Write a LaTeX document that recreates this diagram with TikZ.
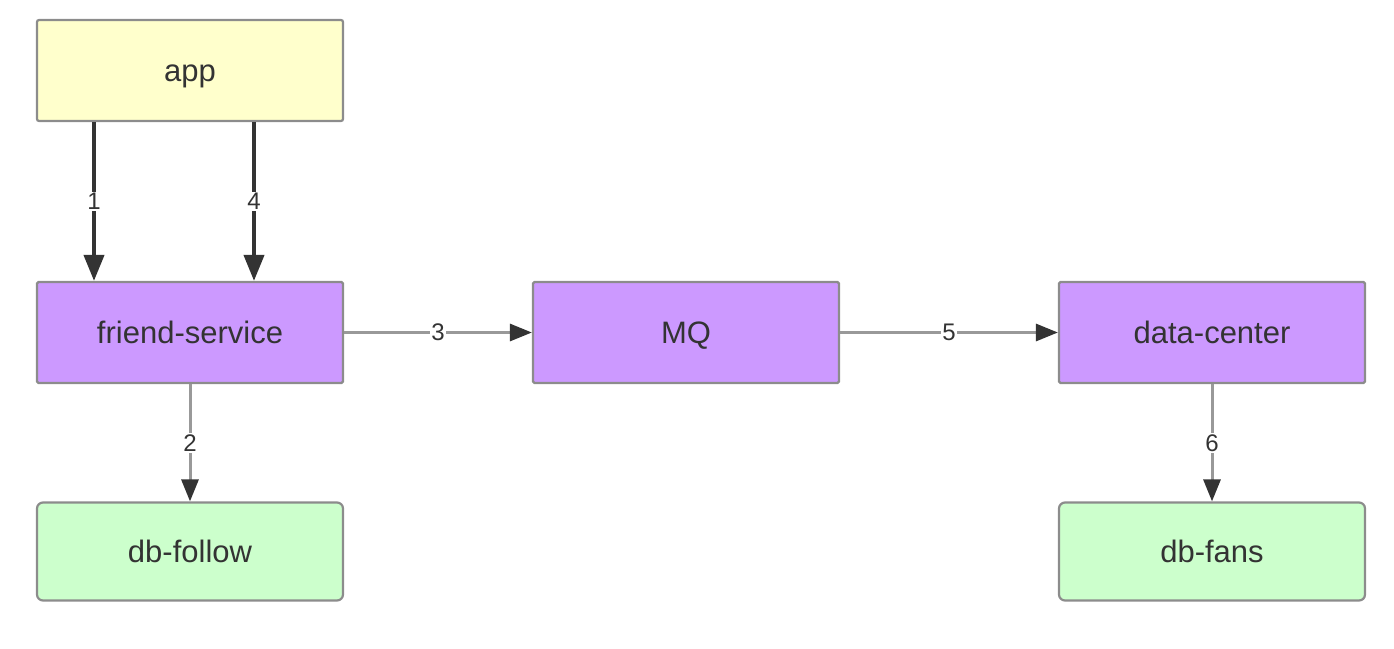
\documentclass[tikz,border=0pt]{standalone}
\usepackage{fontspec}
\setmainfont{Liberation Sans}
\usetikzlibrary{arrows.meta}
\definecolor{appfill}{HTML}{FFFFCC}
\definecolor{svcfill}{HTML}{CC99FF}
\definecolor{dbfill}{HTML}{CCFFCC}
\definecolor{edgegray}{HTML}{8C8C8C}
\definecolor{linegray}{HTML}{999999}
\definecolor{darkline}{HTML}{333333}
\tikzset{
  box/.style={draw=edgegray, line width=2.2pt, minimum width=306pt, minimum height=101pt,
    inner sep=0pt, font=\fontsize{31}{34}\selectfont, text=darkline,
    text height=25pt, text depth=3pt},
  appbox/.style={box, fill=appfill, rounded corners=2pt},
  svcbox/.style={box, fill=svcfill, rounded corners=1.5pt},
  dbbox/.style={box, fill=dbfill, rounded corners=6pt, minimum height=98pt},
  thickarrow/.style={draw=darkline, line width=4pt, -{Triangle[length=26pt,width=20pt,color=darkline]}},
  thinarrow/.style={draw=linegray, line width=3pt, -{Triangle[length=22pt,width=17pt,color=darkline]}},
  lbl/.style={fill=white, inner sep=1.5pt, font=\fontsize{24}{26}\selectfont, text=darkline}
}
\begin{document}
\begin{tikzpicture}[x=1pt,y=-1pt]
\useasboundingbox (0,0) rectangle (1394,648);
\node[appbox] (app) at (190,70.5) {app};
\node[svcbox] (fs) at (190,332.5) {friend-service};
\node[svcbox] (mq) at (686,332.5) {MQ};
\node[svcbox] (dc) at (1212,332.5) {data-center};
\node[dbbox] (dbf) at (190,551.5) {db-follow};
\node[dbbox] (dbn) at (1212,551.5) {db-fans};
\draw[thickarrow] (app.south -| 94,0) -- node[lbl] {1} (fs.north -| 94,0);
\draw[thickarrow] (app.south -| 254,0) -- node[lbl] {4} (fs.north -| 254,0);
\draw[thinarrow] (fs.east) -- node[lbl, pos=0.5] {3} (mq.west);
\draw[thinarrow] (mq.east) -- node[lbl, pos=0.5] {5} (dc.west);
\draw[thinarrow] (fs.south) -- node[lbl, pos=0.5] {2} (dbf.north);
\draw[thinarrow] (dc.south) -- node[lbl, pos=0.5] {6} (dbn.north);
\end{tikzpicture}
\end{document}
